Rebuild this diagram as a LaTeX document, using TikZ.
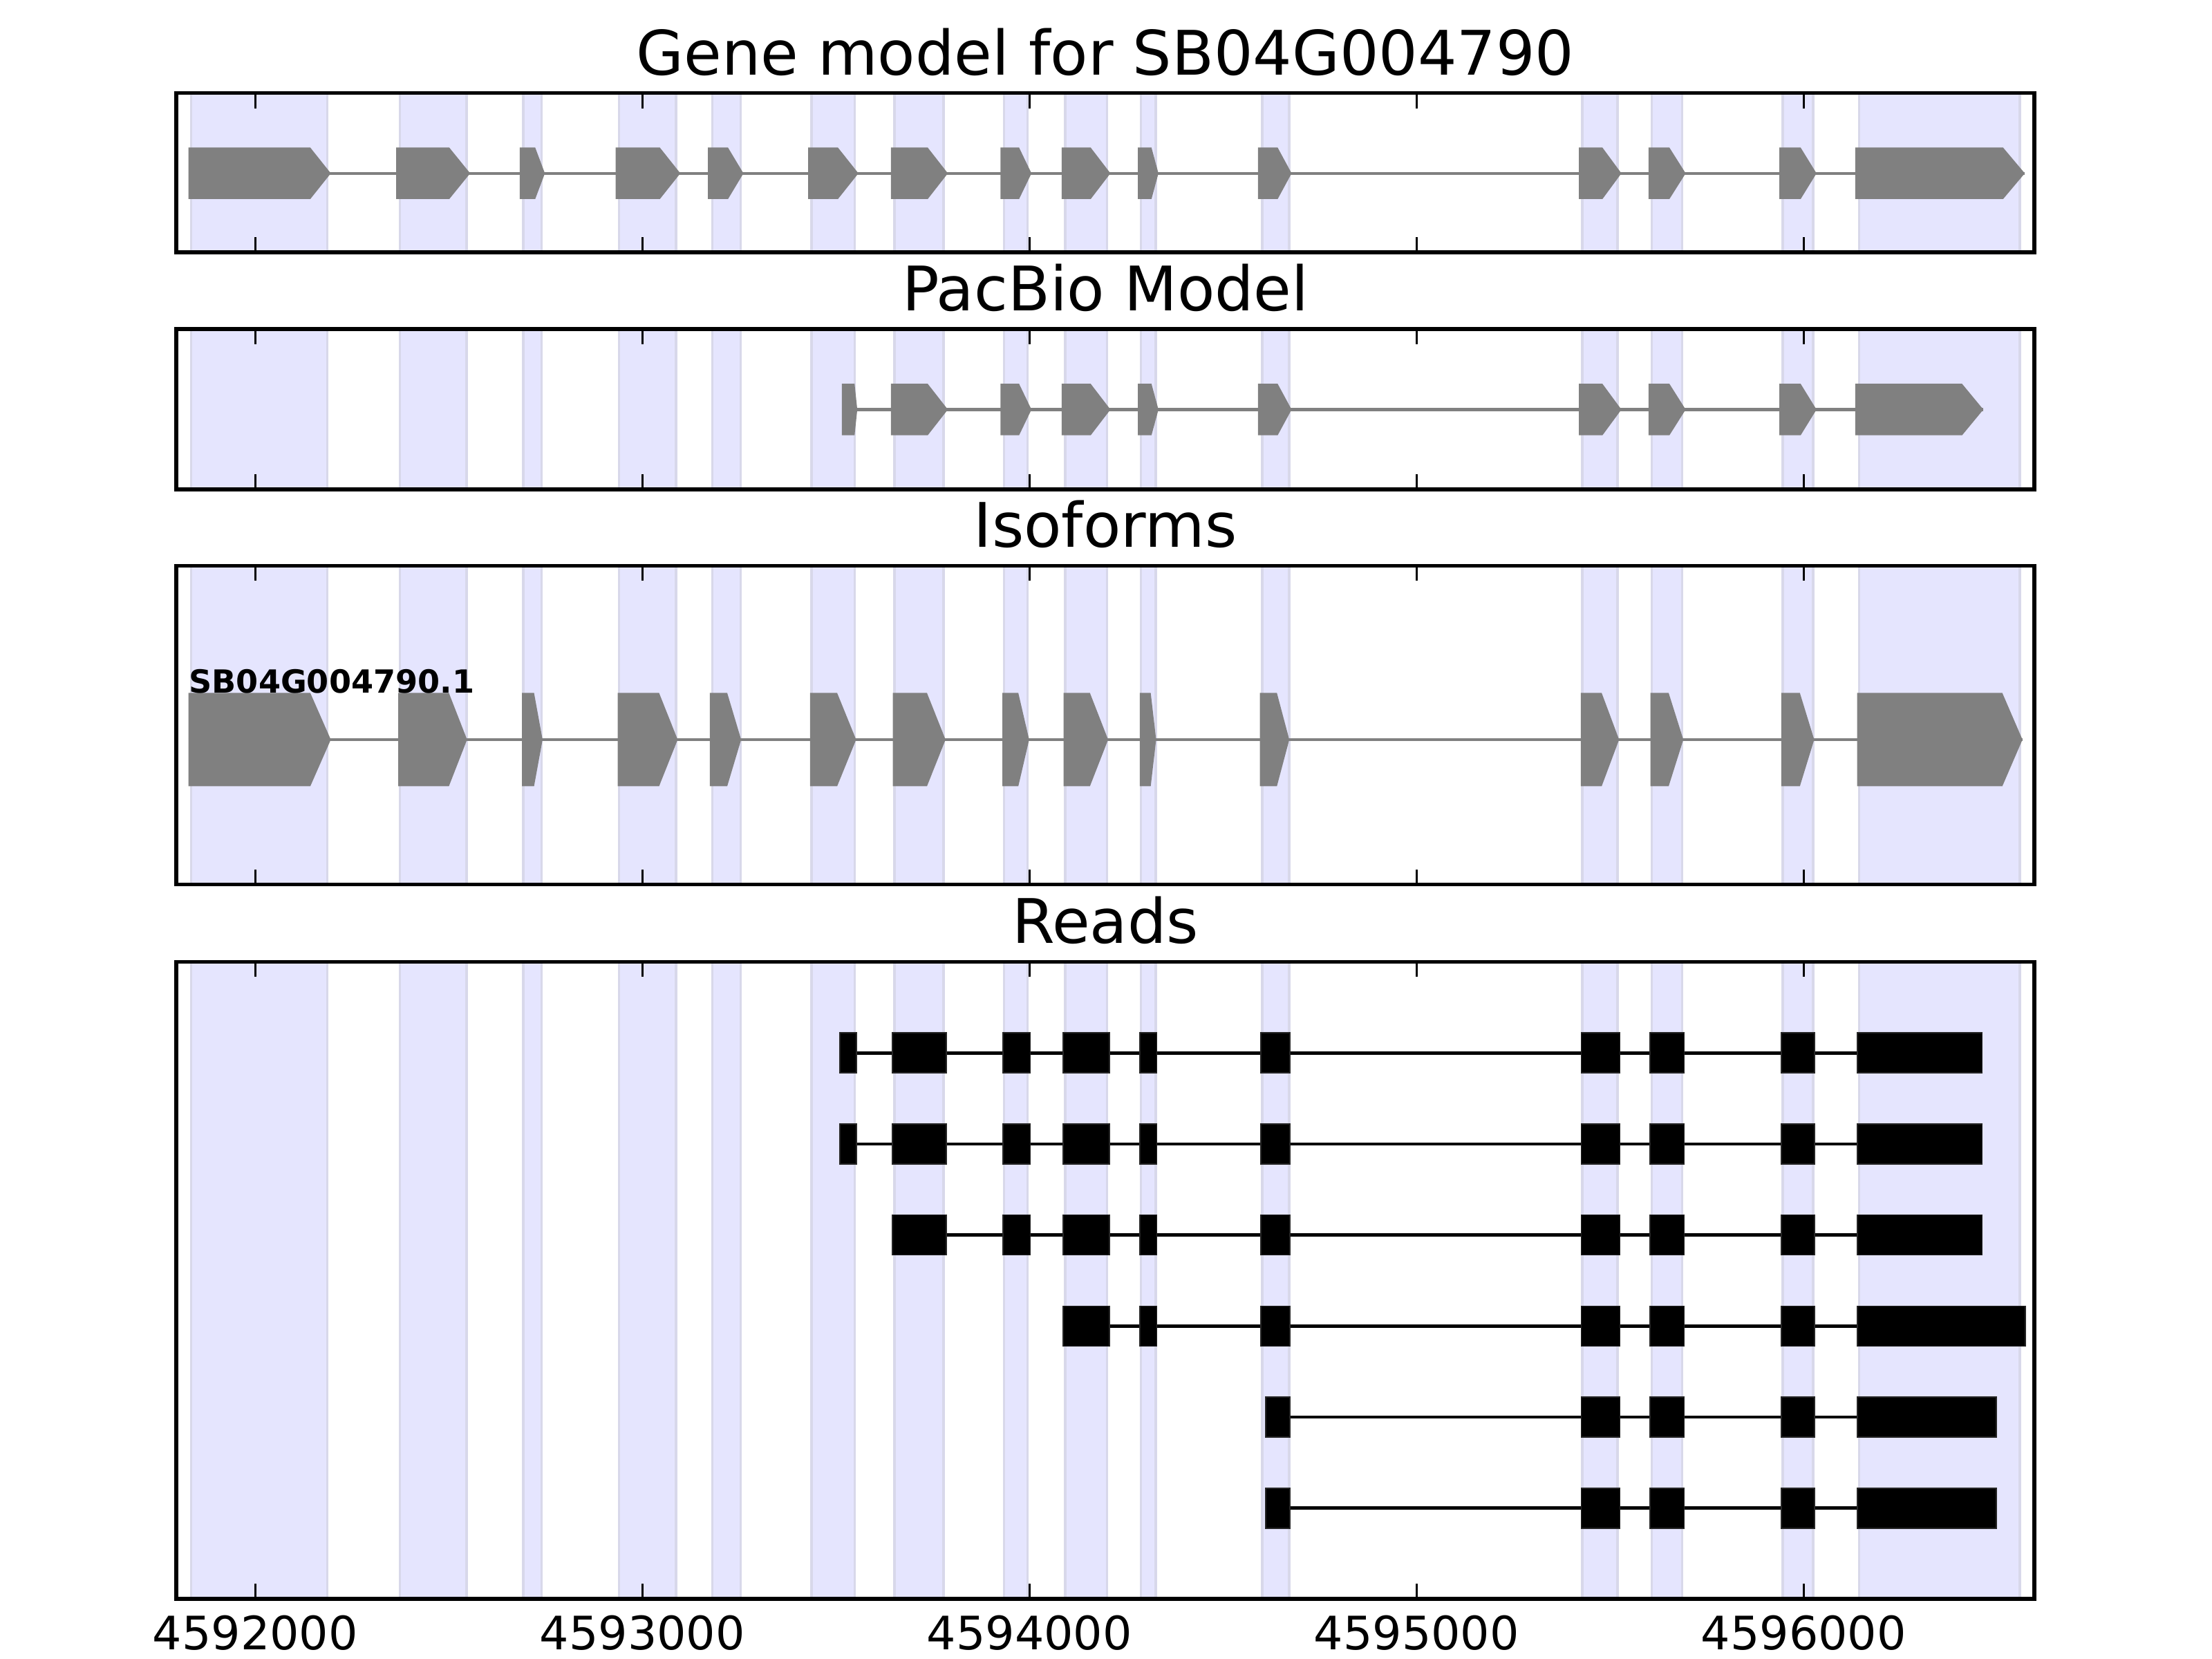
\documentclass[tikz,border=0pt]{standalone}
\usepackage{fontspec}
\setmainfont{DejaVu Sans}
\usepackage{tikz}

\definecolor{exongray}{HTML}{808080}
\definecolor{bandfill}{RGB}{229,229,254}
\definecolor{bandedge}{RGB}{216,216,234}

\tikzset{
  band/.style={fill=bandfill,draw=bandedge,line width=0.6pt},
  frame/.style={draw=black,line width=1pt},
  tickmark/.style={draw=black,line width=0.5pt},
  intron/.style={draw=exongray,line width=0.8pt},
  exon/.style={fill=exongray},
  readexon/.style={fill=black,draw=black!85,line width=0.3pt},
  readline/.style={draw=black,line width=0.85pt},
  paneltitle/.style={font=\fontsize{16pt}{19pt}\selectfont,anchor=base,inner sep=0pt},
  ticklabel/.style={font=\fontsize{12pt}{14pt}\selectfont,anchor=base,inner sep=0pt}
}

% panel top/bottom, in pixels from the top of the figure
\newcommand\panels{134.5/365.2, 475.8/707.8, 818.4/1279.7, 1391.5/2313}
% exon bands, positions minus 4590000
\newcommand\bands{1834/2186, 2373/2546, 2692/2739, 2939/3087, 3180/3254,
  3437/3548, 3651/3778, 3934/3995, 4092/4200, 4288/4326, 4601/4671,
  5428/5519, 5607/5686, 5946/6024, 6143/6558}
% arrow exons: start / end of body / tip
\newcommand\arrowexons[3]{%
  \foreach \s/\f/\t in {#3}
    \fill[exon] (\s,#1-#2) -- (\f,#1-#2) -- (\t,#1) -- (\f,#1+#2) -- (\s,#1+#2) -- cycle;}
% one read: centre, exons, first start, last end
\newcommand\readrow[4]{%
  \draw[readline] (#3,#1) -- (#4,#1);
  \foreach \s/\e in {#2}
    \filldraw[readexon] (\s,#1-29) rectangle (\e,#1+29);}

\begin{document}
\begin{tikzpicture}[x=0.1008pt,y=-0.18pt]
\useasboundingbox (1340.4,0) rectangle (7054.7,2400);

\foreach \ya/\yb in \panels {
  \foreach \s/\e in \bands
    \filldraw[band] (\s,\ya) rectangle (\e,\yb);
}

% gene model
\draw[intron] (1827,250.75) -- (6571,250.75);
\arrowexons{250.75}{37.25}{1827/2142/2195, 2364/2501/2555, 2683/2723/2748,
  2931/3045/3098, 3169/3221/3261, 3428/3505/3558, 3642/3737/3789,
  3925/3973/4005, 4083/4158/4209, 4280/4315/4333, 4590/4641/4677,
  5419/5480/5529, 5599/5653/5695, 5937/5992/6033, 6133/6515/6571}

% pacbio model
\draw[intron] (3515,592.5) -- (6464,592.5);
\arrowexons{592.5}{37.25}{3515/3548/3555, 3642/3737/3789, 3925/3973/4005,
  4083/4158/4209, 4280/4315/4333, 4590/4641/4677, 5419/5480/5529,
  5599/5653/5695, 5937/5992/6033, 6133/6409/6464}

% isoforms
\draw[intron] (1827,1070) -- (6565,1070);
\arrowexons{1070}{67.5}{1827/2142/2195, 2369/2500/2547, 2689/2720/2742,
  2936/3043/3091, 3174/3219/3255, 3433/3503/3552, 3647/3735/3783,
  3930/3971/3999, 4088/4156/4203, 4285/4313/4327, 4595/4639/4671,
  5424/5478/5523, 5604/5651/5689, 5942/5990/6027, 6138/6513/6565}
\node[font=\fontsize{8.3pt}{10pt}\selectfont\bfseries,anchor=base west,inner sep=0pt]
  (isoname) at (1827,1003) {SB04G004790.1};

% reads
\readrow{1523.3}{3510/3553, 3646/3785, 3931/4002, 4087/4206, 4285/4329,
  4597/4673, 5425/5525, 5603/5691, 5942/6028, 6139/6461}{3510}{6461}
\readrow{1655}{3510/3553, 3646/3785, 3931/4002, 4087/4206, 4285/4329,
  4597/4673, 5425/5525, 5603/5691, 5942/6028, 6139/6461}{3510}{6461}
\readrow{1786.7}{3646/3785, 3931/4002, 4087/4206, 4285/4329,
  4597/4673, 5425/5525, 5603/5691, 5942/6028, 6139/6461}{3646}{6461}
\readrow{1918.4}{4087/4206, 4285/4329,
  4597/4673, 5425/5525, 5603/5691, 5942/6028, 6139/6572}{4087}{6572}
\readrow{2050.1}{4610/4673, 5425/5525, 5603/5691, 5942/6028, 6139/6498}{4610}{6498}
\readrow{2181.8}{4610/4673, 5425/5525, 5603/5691, 5942/6028, 6139/6498}{4610}{6498}

% frames and ticks
\foreach \ya/\yb in \panels {
  \foreach \k in {2000,3000,...,6000} {
    \draw[tickmark] (\k,\ya) -- (\k,\ya+22);
    \draw[tickmark] (\k,\yb) -- (\k,\yb-22);
  }
  \draw[frame] (1796,\ya) rectangle (6596,\yb);
}

\node[paneltitle] (genetitle) at (4196,108.5) {Gene model for SB04G004790};
\node[paneltitle] (pacbiotitle) at (4196,449.3) {PacBio Model};
\node[paneltitle] (isotitle) at (4196,791.9) {Isoforms};
\node[paneltitle] (readstitle) at (4196,1365) {Reads};

\foreach \k in {2000,3000,...,6000}
  \node[ticklabel] (xtick\k) at (\k,2387) {459\k};
\end{tikzpicture}
\end{document}
